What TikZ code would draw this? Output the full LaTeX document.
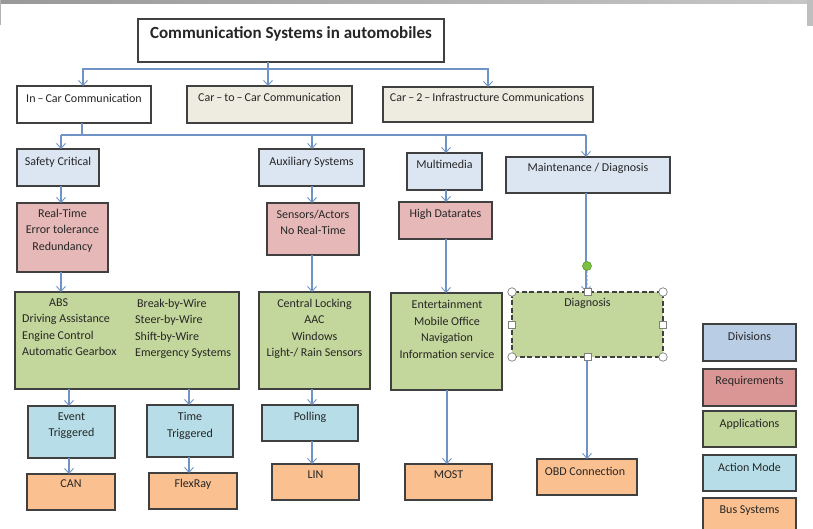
\documentclass[tikz,border=0pt]{standalone}
\usepackage{fontspec}
\setmainfont{Carlito}
\usetikzlibrary{arrows.meta}

\definecolor{edge}{HTML}{404040}
\definecolor{link}{HTML}{6F93C4}
\definecolor{divfill}{HTML}{DCE6F2}
\definecolor{reqfill}{HTML}{E6B9B8}
\definecolor{appfill}{HTML}{C3D69B}
\definecolor{actfill}{HTML}{B7DEE8}
\definecolor{busfill}{HTML}{FAC090}
\definecolor{beige}{HTML}{EEECE1}
\definecolor{keydiv}{HTML}{B9CDE5}
\definecolor{keyreq}{HTML}{D99694}
\definecolor{handle}{HTML}{7F7F7F}
\definecolor{rotfill}{HTML}{7CC242}
\definecolor{rotedge}{HTML}{5A9A2A}

% box given by its corners: name, style, x1, y1, x2, y2
\newcommand\bx[6]{%
  \node[box,#2,minimum width={#5-#3},minimum height={#6-#4}] (#1)
    at ({(#3+#5)/2},{(#4+#6)/2}) {};}

\begin{document}
\begin{tikzpicture}[x=1pt,y=-1pt,
  box/.style={draw=edge,line width=1.2pt,rectangle,inner sep=0pt,outer sep=0pt},
  txt/.style={anchor=north,inner sep=0pt,align=center,text=black!85,
              font=\fontsize{12}{16.5}\selectfont},
  txtl/.style={txt,anchor=north west,align=left},
  line/.style={draw=link,line width=1.2pt},
  arr/.style={line,-{Straight Barb[length=5pt,width=9pt,line width=0.9pt]}},
  hcirc/.style={circle,draw=handle,fill=white,line width=0.7pt,minimum size=8.5pt,inner sep=0pt},
  hsq/.style={rectangle,draw=handle,fill=white,line width=0.7pt,minimum size=7pt,inner sep=0pt}]

\useasboundingbox (0,0) rectangle (813,528);
\clip (0,0) rectangle (813,528);

% window frame strip
\shade[left color=black!40,right color=black!22] (0,0) rectangle (813,3.5);
\fill[black!30] (0,0) rectangle (1.2,25);
\fill[black!25] (807,0) rectangle (813,26);

% level 0 and 1
\bx{title}{fill=white}{138}{19}{444}{62}
\bx{incar}{fill=white}{17}{86}{151}{123}
\bx{c2c}{fill=beige}{187}{86}{352}{123}
\bx{car2}{fill=beige}{383}{87}{593}{122}

% divisions
\bx{safety}{fill=divfill}{17}{149}{99}{186}
\bx{aux}{fill=divfill}{259}{149}{364}{186}
\bx{mm}{fill=divfill}{407}{153}{482}{190}
\bx{maint}{fill=divfill}{506}{157}{670}{193}

% requirements
\bx{req1}{fill=reqfill}{17}{203}{108}{272}
\bx{req2}{fill=reqfill}{267}{203}{359}{255}
\bx{req3}{fill=reqfill}{399}{202}{492}{239}

% applications
\bx{app1}{fill=appfill}{15}{292}{239}{389}
\bx{app2}{fill=appfill}{259}{292}{370}{389}
\bx{app3}{fill=appfill}{391}{293}{502}{390}
\bx{diag}{fill=appfill,dashed,dash pattern=on 5pt off 2.5pt}{512}{292}{663}{357}

% action modes
\bx{event}{fill=actfill}{28}{406}{115}{458}
\bx{timet}{fill=actfill}{147}{405}{233}{457}
\bx{poll}{fill=actfill}{262}{405}{358}{441}

% bus systems
\bx{can}{fill=busfill}{27}{474}{115}{510}
\bx{flex}{fill=busfill}{149}{473}{237}{509}
\bx{lin}{fill=busfill}{272}{464}{359}{500}
\bx{most}{fill=busfill}{405}{464}{492}{500}
\bx{obd}{fill=busfill}{537}{459}{637}{495}

% key
\bx{kdiv}{fill=keydiv}{703}{324}{796}{361}
\bx{kreq}{fill=keyreq}{703}{369}{796}{406}
\bx{kapp}{fill=appfill}{703}{411}{796}{447}
\bx{kact}{fill=actfill}{703}{455}{796}{491}
\bx{kbus}{fill=busfill}{703}{498}{796}{534}

% texts
\node[txt,font=\fontsize{17}{20}\selectfont\bfseries] (titleT) at (291,26.7) {Communication Systems in automobiles};
\node[txt] (incarT) at (84,93.5) {In\,--\,Car Communication};
\node[txt] (c2cT) at (269.5,92.5) {Car\,--\,to\,--\,Car Communication};
\node[txt] (car2T) at (487,92.5) {Car\,--\,2\,--\,Infrastructure Communications};

\node[txt] (safetyT) at (58,156.5) {Safety Critical};
\node[txt] (auxT) at (311.5,156.5) {Auxiliary Systems};
\node[txt] (mmT) at (444.5,159.5) {Multimedia};
\node[txt] (maintT) at (588,162.5) {Maintenance / Diagnosis};

\node[txt] (req1T) at (62.5,208.5) {Real-Time\\Error tolerance\\Redundancy};
\node[txt] (req2T) at (313,209.5) {Sensors/Actors\\No Real-Time};
\node[txt] (req3T) at (445.5,208.5) {High Datarates};

\node[txtl] (app1L) at (22,298.5) {\hspace*{27pt}ABS\\Driving Assistance\\Engine Control\\Automatic Gearbox};
\node[txtl] (app1R) at (135,298.5) {\hspace*{2pt}Break-by-Wire\\Steer-by-Wire\\Shift-by-Wire\\Emergency Systems};
\node[txt] (app2T) at (314.5,298.5) {Central Locking\\AAC\\Windows\\Light-/ Rain Sensors};
\node[txt] (app3T) at (447,300.5) {Entertainment\\Mobile Office\\Navigation\\Information service};
\node[txt] (diagT) at (587.5,298.5) {Diagnosis};

\node[txt] (eventT) at (71.5,412.5) {Event\\Triggered};
\node[txt] (timeT) at (190,412.5) {Time\\Triggered};
\node[txt] (pollT) at (310,411.5) {Polling};

\node[txt] (canT) at (71,479.5) {CAN};
\node[txt] (flexT) at (193,478.5) {FlexRay};
\node[txt] (linT) at (315.5,470.5) {LIN};
\node[txt] (mostT) at (448.5,470.5) {MOST};
\node[txt] (obdT) at (585,466.5) {OBD Connection};

\node[txt] (kdivT) at (749.5,332.5) {Divisions};
\node[txt] (kreqT) at (749.5,376.5) {Requirements};
\node[txt] (kappT) at (749.5,418.5) {Applications};
\node[txt] (kactT) at (749.5,462.5) {Action Mode};
\node[txt] (kbusT) at (749.5,505.5) {Bus Systems};

% connector columns and buses
\coordinate (bus1) at (268,69);
\coordinate (busL) at (61,135);
\coordinate (busR) at (586,135);
\coordinate (colE) at (69,0);
\coordinate (colT) at (189,0);
\coordinate (colA) at (312,0);
\coordinate (colM) at (446,0);

% title to the three kinds of communication
\draw[arr] (bus1 |- title.south) -- (bus1 |- c2c.north);
\draw[arr] (bus1) -| ([xshift=-1]incar.north);
\draw[arr] (bus1) -| (car2.north);

% in-car communication to the divisions
\draw[line] ([xshift=-2]incar.south) -- ([xshift=-2]incar.south |- busL);
\draw[line] (busL) -- (busR);
\draw[arr] (busL) -- (busL |- safety.north);
\draw[arr] (busL -| colA) -- (colA |- aux.north);
\draw[arr] (busL -| colM) -- (colM |- mm.north);
\draw[arr] (busR) -- (busR |- maint.north);

% safety critical column
\draw[arr] (busL |- safety.south) -- (busL |- req1.north);
\draw[arr] (busL |- req1.south) -- (busL |- app1.north);
\draw[arr] (colE |- app1.south) -- (colE |- event.north);
\draw[arr] (colT |- app1.south) -- (colT |- timet.north);
\draw[arr] (colE |- event.south) -- (colE |- can.north);
\draw[arr] (colT |- timet.south) -- (colT |- flex.north);

% auxiliary systems column
\draw[arr] (colA |- aux.south) -- (colA |- req2.north);
\draw[arr] (colA |- req2.south) -- (colA |- app2.north);
\draw[arr] (colA |- app2.south) -- (colA |- poll.north);
\draw[arr] (colA |- poll.south) -- (colA |- lin.north);

% multimedia column
\draw[arr] (colM |- mm.south) -- (colM |- req3.north);
\draw[arr] (colM |- req3.south) -- (colM |- app3.north);
\draw[arr] ([xshift=1]colM |- app3.south) -- ([xshift=1]colM |- most.north);

% maintenance column
\draw[arr] (busR |- maint.south) -- (busR |- diag.north);
\draw[arr] ([xshift=1]busR |- diag.south) -- ([xshift=1]busR |- obd.north);

% selection handles on the diagnosis box
\node[circle,fill=rotfill,draw=rotedge,line width=0.6pt,minimum size=9pt,inner sep=0pt] (rot) at (587,266) {};
\draw[handle!70,line width=0.6pt,dash pattern=on 2pt off 2pt] (rot) -- (diag.north);
\node[hcirc] (hnw) at (diag.north west) {};
\node[hcirc] (hne) at (diag.north east) {};
\node[hcirc] (hsw) at (diag.south west) {};
\node[hcirc] (hse) at (diag.south east) {};
\node[hsq] (hn) at (diag.north) {};
\node[hsq] (hs) at (diag.south) {};
\node[hsq] (hw) at (diag.west) {};
\node[hsq] (he) at (diag.east) {};

\end{tikzpicture}
\end{document}
